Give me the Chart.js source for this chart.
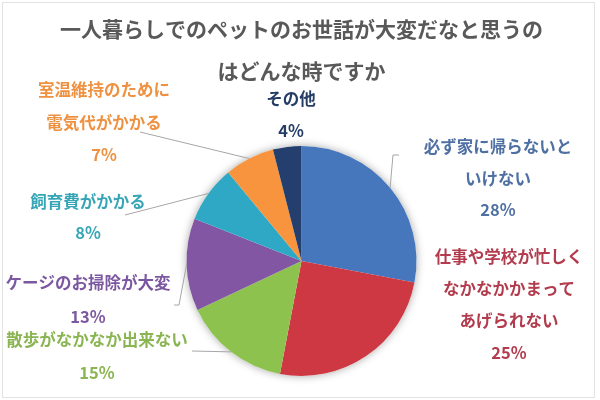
<!DOCTYPE html>
<html>
<head>
<meta charset="utf-8">
<script src="https://cdn.jsdelivr.net/npm/chart.js@4"></script>
<style>
  html, body { margin: 0; padding: 0; background: #fff; }
  #wrap { position: relative; width: 600px; height: 400px; }
  #frame { position: absolute; left: 2px; top: 2px; width: 591px; height: 394px; border: 1px solid #e2e2e2; pointer-events: none; }
</style>
</head>
<body>
<div id="wrap">
  <canvas id="chart" width="600" height="400"></canvas>
  <div id="frame"></div>
</div>
<script>
const titleLines = ["一人暮らしでのペットのお世話が大変だなと思うの", "はどんな時ですか"];

const categories = [
  "必ず家に帰らないといけない",
  "仕事や学校が忙しくなかなかかまってあげられない",
  "散歩がなかなか出来ない",
  "ケージのお掃除が大変",
  "飼育費がかかる",
  "室温維持のために電気代がかかる",
  "その他",
];
const shares = [28, 25, 15, 13, 8, 7, 4];
const labelLines = [
  ["必ず家に帰らないと", "いけない"],
  ["仕事や学校が忙しく", "なかなかかまって", "あげられない"],
  ["散歩がなかなか出来ない"],
  ["ケージのお掃除が大変"],
  ["飼育費がかかる"],
  ["室温維持のために", "電気代がかかる"],
  ["その他"],
];

const sliceColors = ["#4677BD", "#CE3843", "#8DC24F", "#8256A3", "#2FA8C5", "#F7943D", "#243F6E"];
const textColors = ["#4F70A3", "#B23C4E", "#8AB552", "#7C58A0", "#36A6B6", "#EE9140", "#253D66"];

// label placement: center x, first line y, line step; leader points after the arc anchor
const labelLayout = [
  { x: 498, y: 147, step: 31.5, leader: [[393, 155], [399, 155]] },
  { x: 509, y: 257, step: 32, leader: null },
  { x: 97, y: 340, step: 33, leader: [[192, 351]] },
  { x: 88, y: 283, step: 34, leader: [[179, 305], [174, 305]] },
  { x: 88, y: 202, step: 31, leader: [[125, 215]] },
  { x: 104, y: 90, step: 32.5, leader: [[140, 132]] },
  { x: 291, y: 99, step: 32, leader: null },
];

const pieShadow = {
  id: "pieShadow",
  beforeDatasetsDraw(chart) {
    const arc = chart.getDatasetMeta(0).data[0];
    if (!arc) return;
    const ctx = chart.ctx;
    ctx.save();
    ctx.shadowColor = "rgba(0,0,0,0.35)";
    ctx.shadowBlur = 9;
    ctx.fillStyle = "#fff";
    ctx.beginPath();
    ctx.arc(arc.x, arc.y, arc.outerRadius, 0, Math.PI * 2);
    ctx.fill();
    ctx.restore();
  },
};

const sliceLabels = {
  id: "sliceLabels",
  afterDraw(chart) {
    const ctx = chart.ctx;
    const arcs = chart.getDatasetMeta(0).data;
    ctx.save();
    arcs.forEach((arc, i) => {
      const lay = labelLayout[i];
      if (lay.leader) {
        const mid = (arc.startAngle + arc.endAngle) / 2;
        ctx.strokeStyle = "#A6A6A6";
        ctx.lineWidth = 1;
        ctx.beginPath();
        ctx.moveTo(arc.x + Math.cos(mid) * arc.outerRadius, arc.y + Math.sin(mid) * arc.outerRadius);
        lay.leader.forEach(p => ctx.lineTo(p[0], p[1]));
        ctx.stroke();
      }
      const lines = labelLines[i].concat([shares[i] + "%"]);
      ctx.fillStyle = textColors[i];
      ctx.font = "bold 16.5px 'Noto Sans CJK JP', sans-serif";
      ctx.textAlign = "center";
      ctx.textBaseline = "middle";
      lines.forEach((t, k) => ctx.fillText(t, lay.x, lay.y + k * lay.step));
    });
    ctx.restore();
  },
};

new Chart(document.getElementById("chart"), {
  type: "pie",
  data: {
    labels: categories,
    datasets: [{
      data: shares,
      backgroundColor: sliceColors,
      borderWidth: 0,
    }],
  },
  options: {
    responsive: false,
    animation: false,
    layout: { padding: { left: 3, right: 0, top: 0, bottom: 24 } },
    plugins: {
      legend: { display: false },
      tooltip: { enabled: false },
      title: {
        display: true,
        text: titleLines,
        color: "#595959",
        font: { family: "'Noto Sans CJK JP', sans-serif", size: 21, weight: "bold", lineHeight: 2.0 },
        padding: { top: 8, bottom: 54 },
      },
    },
  },
  plugins: [pieShadow, sliceLabels],
});
</script>
</body>
</html>
